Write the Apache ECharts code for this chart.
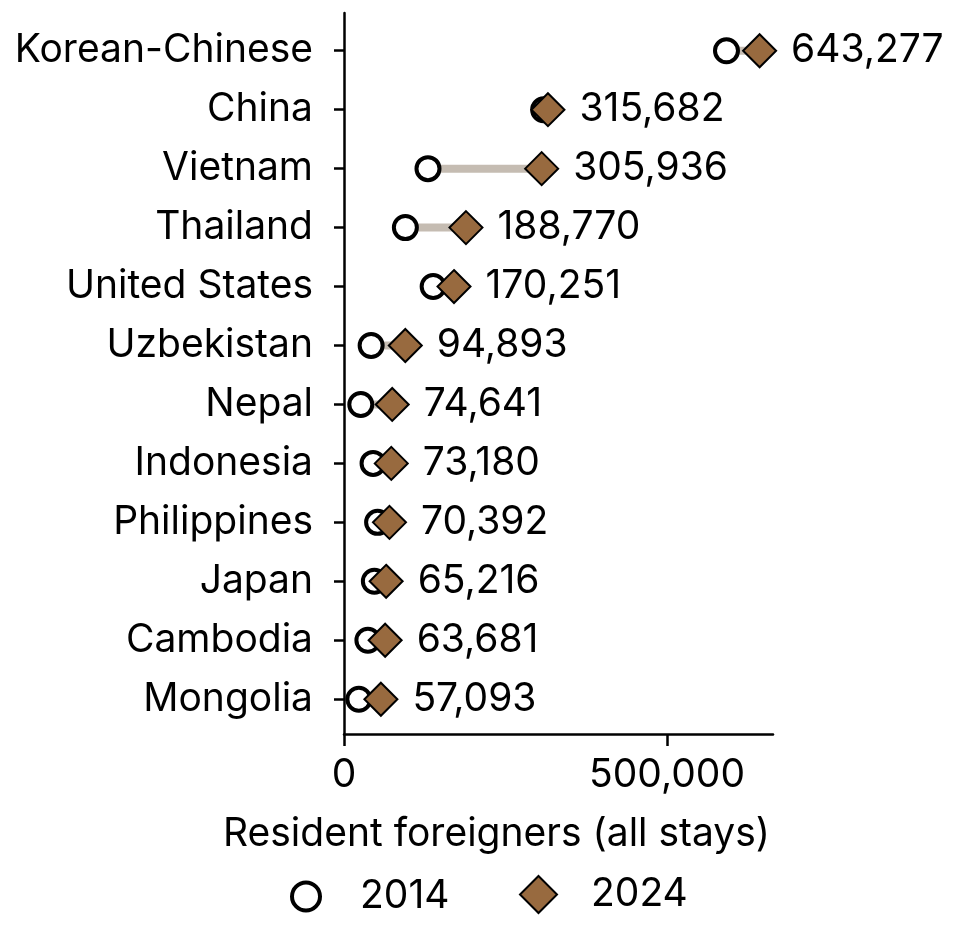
<!DOCTYPE html>
<html>
<head>
    <meta charset="UTF-8">
    <style>
        html, body { margin: 0; padding: 0; background: #fff; }
        #chart { width: 962px; height: 932px; }
    </style>
</head>
<body>
<div id="chart"></div>
<script src="https://cdn.jsdelivr.net/npm/echarts@6/dist/echarts.min.js"></script>
<script>
    // countries, top to bottom
    var categories = ['Korean-Chinese', 'China', 'Vietnam', 'Thailand', 'United States', 'Uzbekistan',
        'Nepal', 'Indonesia', 'Philippines', 'Japan', 'Cambodia', 'Mongolia'];
    // 2014 values (not labelled)
    var values2014 = [592000, 309000, 130000, 95000, 138000, 42000, 26000, 45000, 52000, 47000, 37000, 23000];
    // 2024 values (labelled)
    var values2024 = [643277, 315682, 305936, 188770, 170251, 94893, 74641, 73180, 70392, 65216, 63681, 57093];
    var xTicks = [0, 500000];

    var FONT = 'Inter';
    var FS = 39;
    var idx = categories.map(function (c, i) { return i; });

    var pts2014 = values2014.map(function (v, i) { return [v, i]; });
    var pts2024 = values2024.map(function (v, i) { return [v, i]; });
    var segs = values2014.map(function (v, i) { return [v, values2024[i], i]; });

    function fmt(n) {
        return String(n).replace(/\B(?=(\d{3})+(?!\d))/g, ',');
    }

    var chart = echarts.init(document.getElementById('chart'));
    chart.setOption({
        animation: false,
        textStyle: { fontFamily: FONT },
        grid: { left: 344, top: 13, right: 189, bottom: 198 },
        title: {
            text: 'Resident foreigners (all stays)',
            left: 218, top: 810,
            textStyle: { fontFamily: FONT, fontSize: FS, fontWeight: 'normal', color: '#000' }
        },
        // two legends so each icon keeps its own size
        legend: [
            {
                left: 290, top: 877, padding: 0,
                itemWidth: 28, itemHeight: 28,
                itemStyle: { borderWidth: 4 },
                textStyle: { fontFamily: FONT, fontSize: FS, color: '#000', padding: [0, 0, 0, 35] },
                data: ['2014']
            },
            {
                left: 519, top: 875, padding: 0,
                itemWidth: 37, itemHeight: 37,
                itemStyle: { borderWidth: 2 },
                textStyle: { fontFamily: FONT, fontSize: FS, color: '#000', padding: [0, 0, 0, 29] },
                data: ['2024']
            }
        ],
        xAxis: {
            type: 'value', min: 0, max: 664000,
            splitLine: { show: false },
            axisLine: { show: true, onZero: false, lineStyle: { color: '#000', width: 2.5 } },
            axisTick: { show: true, length: 12, customValues: xTicks, lineStyle: { color: '#000', width: 2.5 } },
            axisLabel: { customValues: xTicks, formatter: fmt, fontSize: FS, color: '#000', margin: 22, fontFamily: FONT }
        },
        yAxis: {
            type: 'value', inverse: true, min: -0.64, max: 11.59,
            splitLine: { show: false },
            axisLine: { show: true, onZero: false, lineStyle: { color: '#000', width: 2.5 } },
            axisTick: { show: true, length: 10, customValues: idx, lineStyle: { color: '#000', width: 2.5 } },
            axisLabel: {
                customValues: idx, fontSize: FS, color: '#000', margin: 31, fontFamily: FONT,
                formatter: function (v) { return categories[v]; }
            }
        },
        series: [
            {
                type: 'custom',
                silent: true,
                z: 1,
                data: segs,
                encode: { x: [0, 1], y: 2 },
                renderItem: function (params, api) {
                    var a = api.coord([api.value(0), api.value(2)]);
                    var b = api.coord([api.value(1), api.value(2)]);
                    return {
                        type: 'line',
                        shape: { x1: a[0], y1: a[1], x2: b[0], y2: b[1] },
                        style: { stroke: '#c5bcb2', lineWidth: 8 }
                    };
                }
            },
            {
                name: '2014',
                type: 'scatter',
                z: 2,
                symbol: 'circle',
                symbolSize: 23,
                itemStyle: { color: '#fff', borderColor: '#000', borderWidth: 4, opacity: 1 },
                data: pts2014
            },
            {
                name: '2024',
                type: 'scatter',
                z: 3,
                symbol: 'diamond',
                symbolSize: 33,
                itemStyle: { color: '#986a3f', borderColor: '#000', borderWidth: 2, opacity: 1 },
                label: {
                    show: true, position: 'right', distance: 14,
                    fontSize: FS, color: '#000', fontFamily: FONT,
                    formatter: function (p) { return fmt(p.value[0]); }
                },
                data: pts2024
            }
        ]
    });
</script>
</body>
</html>
